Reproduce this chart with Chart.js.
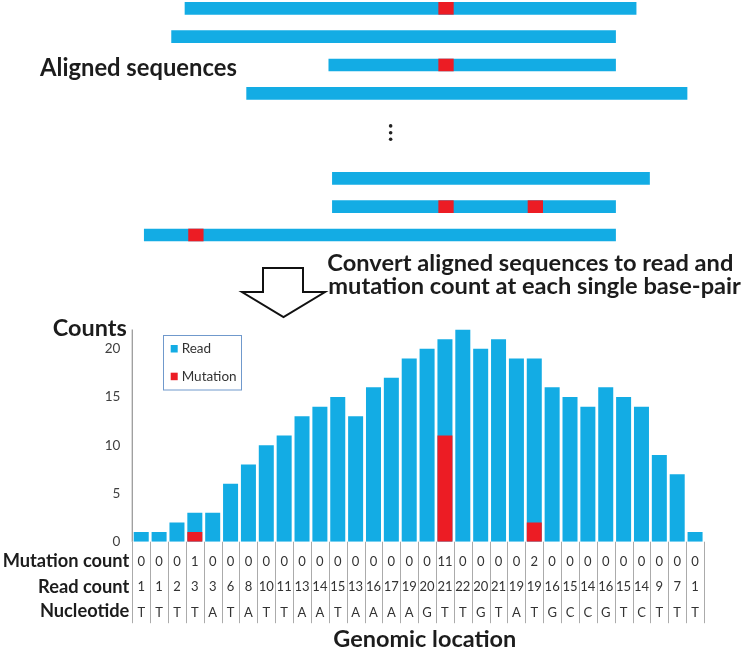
<!DOCTYPE html>
<html>
<head>
<meta charset="utf-8">
<title>Read and mutation counts</title>
<script src="https://cdn.jsdelivr.net/npm/chart.js@4/dist/chart.umd.min.js"></script>
<style>
  html, body { margin: 0; padding: 0; background: #fff; }
  body { width: 750px; height: 652px; position: relative; overflow: hidden; }
  canvas { position: absolute; left: 0; top: 0; }
</style>
</head>
<body>
<canvas id="count-chart" width="750" height="652"></canvas>
<canvas id="seq-chart" width="750" height="250"></canvas>
<script>
// ---- per base-pair counts (bottom chart) ----
const positions = ['1','2','3','4','5','6','7','8','9','10','11','12','13','14','15','16',
  '17','18','19','20','21','22','23','24','25','26','27','28','29','30','31','32'];
const readCounts = [1, 1, 2, 3, 3, 6, 8, 10, 11, 13, 14, 15, 13, 16, 17, 19,
  20, 21, 22, 20, 21, 19, 19, 16, 15, 14, 16, 15, 14, 9, 7, 1];
const mutationCounts = [0, 0, 0, 1, 0, 0, 0, 0, 0, 0, 0, 0, 0, 0, 0, 0,
  0, 11, 0, 0, 0, 0, 2, 0, 0, 0, 0, 0, 0, 0, 0, 0];
const nucleotides = ['T','T','T','T','A','T','A','T','T','A','A','T','A','A','A','A',
  'G','T','T','G','T','A','T','G','C','C','G','T','C','T','T','T'];
const yTicks = [0, 5, 10, 15, 20];
const yMax = 22;

// ---- aligned reads (top chart), in base-pair units on the same axis ----
const seqRows = ['read 1', 'read 2', 'read 3', 'read 4', '', '', 'read n-2', 'read n-1', 'read n'];
const seqRowIndex = [0, 1, 2, 3, 6, 7, 8];
const seqStart = [2.95, 2.2, 11.0, 6.4, 11.2, 11.2, 0.67];
const seqEnd = [28.2, 27.05, 27.05, 31.05, 28.95, 27.05, 27.05];
const seqMutations = [[17], [], [17], [], [], [17, 22], [3]];
const dotsAt = [4.15, 4.39, 4.62];
const dotsX = 14.46;

const BLUE = '#13ace4';
const RED = '#ec1c24';
const TEXT = '#1c1c1c';

function fitSize(ctx, text, width, weight) {
  ctx.font = weight + ' 20px Lato';
  return 20 * width / ctx.measureText(text).width;
}

const tablePlugin = {
  id: 'table',
  afterDraw(chart) {
    const { ctx, chartArea: a, scales: { x, y } } = chart;
    ctx.save();

    // y axis line
    ctx.strokeStyle = '#9b9b9b';
    ctx.lineWidth = 1.3;
    ctx.beginPath();
    ctx.moveTo(a.left, y.getPixelForValue(yMax));
    ctx.lineTo(a.left, a.bottom);
    ctx.stroke();

    // y tick labels
    ctx.fillStyle = '#404040';
    ctx.font = '13.5px Lato';
    ctx.textAlign = 'right';
    ctx.textBaseline = 'middle';
    yTicks.forEach(v => ctx.fillText(String(v), a.left - 12, y.getPixelForValue(v)));

    // table column separators
    ctx.strokeStyle = '#ababab';
    ctx.lineWidth = 1;
    for (let i = 0; i <= positions.length; i++) {
      const px = Math.round(x.getPixelForValue(i - 0.5)) + 0.5;
      ctx.beginPath();
      ctx.moveTo(px, a.bottom);
      ctx.lineTo(px, a.bottom + 81.5);
      ctx.stroke();
    }

    // table values
    ctx.fillStyle = '#333';
    ctx.font = '13px Lato';
    ctx.textAlign = 'center';
    ctx.textBaseline = 'alphabetic';
    positions.forEach((_, i) => {
      const px = x.getPixelForValue(i);
      ctx.fillText(String(mutationCounts[i]), px, a.bottom + 24.5);
      ctx.fillText(String(readCounts[i]), px, a.bottom + 49.5);
      ctx.fillText(nucleotides[i], px, a.bottom + 75);
    });

    // row labels
    const rowSize = fitSize(ctx, 'Mutation count', 126.7, 'bold');
    ctx.font = 'bold ' + rowSize + 'px Lato';
    ctx.fillStyle = TEXT;
    ctx.textAlign = 'right';
    ctx.fillText('Mutation count', a.left - 3, a.bottom + 25.6);
    ctx.fillText('Read count', a.left - 3, a.bottom + 51);
    ctx.fillText('Nucleotide', a.left - 3, a.bottom + 75.6);

    // axis titles
    ctx.font = 'bold ' + fitSize(ctx, 'Counts', 74, 'bold') + 'px Lato';
    ctx.fillText('Counts', 126.7, 336);
    ctx.textAlign = 'left';
    ctx.font = 'bold ' + fitSize(ctx, 'Genomic location', 183, 'bold') + 'px Lato';
    ctx.fillText('Genomic location', 333.3, 646.7);

    // legend
    ctx.strokeStyle = '#7099cc';
    ctx.lineWidth = 1;
    ctx.strokeRect(163.5, 335.5, 78, 54.5);
    ctx.fillStyle = BLUE;
    ctx.fillRect(170.7, 345, 7, 7.5);
    ctx.fillStyle = RED;
    ctx.fillRect(170.7, 372.7, 7, 7.5);
    ctx.fillStyle = '#333';
    ctx.font = '13.5px Lato';
    ctx.textBaseline = 'middle';
    ctx.fillText('Read', 181.7, 349);
    ctx.fillText('Mutation', 181.7, 376.5);

    // headings
    ctx.fillStyle = TEXT;
    ctx.textBaseline = 'alphabetic';
    ctx.font = 'bold ' + fitSize(ctx, 'Aligned sequences', 197, 'bold') + 'px Lato';
    ctx.fillText('Aligned sequences', 40, 76);
    const line2 = 'mutation count at each single base-pair';
    ctx.font = 'bold ' + fitSize(ctx, line2, 413, 'bold') + 'px Lato';
    ctx.fillText('Convert aligned sequences to read and', 327.3, 270.7);
    ctx.fillText(line2, 328.3, 294);

    // hollow down arrow
    ctx.beginPath();
    ctx.moveTo(263, 268);
    ctx.lineTo(303, 268);
    ctx.lineTo(303, 292);
    ctx.lineTo(325, 292);
    ctx.lineTo(283.5, 317);
    ctx.lineTo(242, 292);
    ctx.lineTo(263, 292);
    ctx.closePath();
    ctx.fillStyle = '#fff';
    ctx.fill();
    ctx.strokeStyle = '#111';
    ctx.lineWidth = 2;
    ctx.stroke();

    ctx.restore();
  }
};

new Chart(document.getElementById('count-chart'), {
  type: 'bar',
  data: {
    labels: positions,
    datasets: [
      {
        label: 'Mutation',
        data: mutationCounts,
        backgroundColor: RED,
        grouped: false,
        order: 0,
        categoryPercentage: 1,
        barPercentage: 0.84,
      },
      {
        label: 'Read',
        data: readCounts,
        backgroundColor: BLUE,
        grouped: false,
        order: 1,
        categoryPercentage: 1,
        barPercentage: 0.84,
      },
    ],
  },
  options: {
    responsive: false,
    animation: false,
    layout: { padding: { left: 132.3, right: 46, top: 329.5, bottom: 110.3 } },
    plugins: { legend: { display: false }, tooltip: { enabled: false } },
    scales: {
      x: { display: false },
      y: { display: false, min: 0, max: yMax },
    },
  },
  plugins: [tablePlugin],
});

const readSegments = seqStart.map((s, i) => ({ x: [s, seqEnd[i]], y: seqRows[seqRowIndex[i]] }));
const mutationSegments = seqMutations.flatMap((cols, i) =>
  cols.map(c => ({ x: [c + 0.15, c + 0.97], y: seqRows[seqRowIndex[i]] })));

const dotsPlugin = {
  id: 'dots',
  afterDatasetsDraw(chart) {
    const { ctx, scales: { x, y } } = chart;
    ctx.save();
    ctx.fillStyle = '#222';
    dotsAt.forEach(v => {
      ctx.beginPath();
      ctx.arc(x.getPixelForValue(dotsX), y.getPixelForValue(v), 1.8, 0, Math.PI * 2);
      ctx.fill();
    });
    ctx.restore();
  }
};

new Chart(document.getElementById('seq-chart'), {
  type: 'bar',
  data: {
    labels: seqRows,
    datasets: [
      { label: 'Mutation', data: mutationSegments, backgroundColor: RED, grouped: false, barThickness: 12, clip: false, order: 0 },
      { label: 'Read', data: readSegments, backgroundColor: BLUE, grouped: false, barThickness: 12, clip: false, order: 1 },
    ],
  },
  options: {
    indexAxis: 'y',
    responsive: false,
    animation: false,
    layout: { padding: { left: 132.3, right: 46, top: 8.3, bottom: 15 } },
    plugins: { legend: { display: false }, tooltip: { enabled: false } },
    scales: {
      x: { type: 'linear', min: 0, max: 32, display: false },
      y: { type: 'category', offset: false, display: false },
    },
  },
  plugins: [dotsPlugin],
});
</script>
</body>
</html>
